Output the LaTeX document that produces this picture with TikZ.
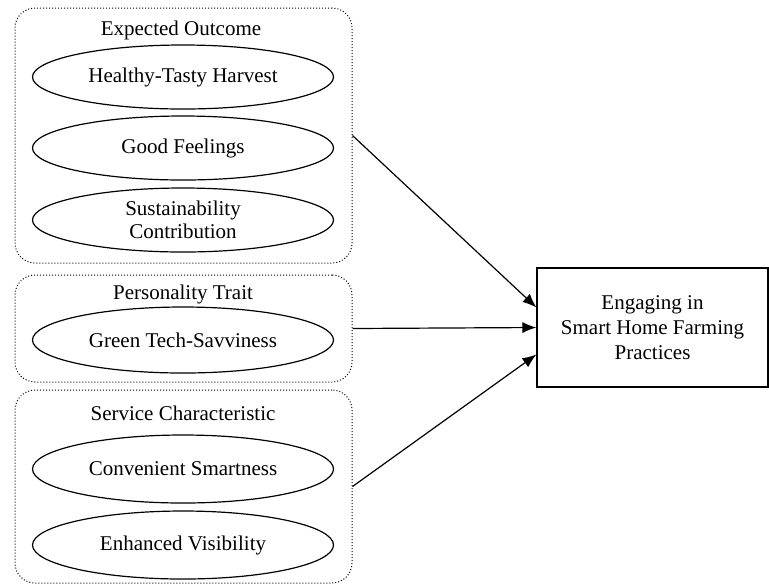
\documentclass[tikz,border=0pt]{standalone}
\usepackage{fontspec}
\setmainfont{Liberation Serif}
\usetikzlibrary{arrows.meta,positioning,shapes.geometric}
\tikzset{>={Latex[length=7pt,width=5.5pt]}}
\tikzset{
  group/.style={draw, densely dotted, line width=0.5pt, rounded corners=10pt,
    minimum width=168.5pt},
  factor/.style={draw, ellipse, line width=0.6pt, inner sep=0pt,
    minimum width=150.5pt, minimum height=32pt, align=center,
    font=\fontsize{10.5}{11.7}\selectfont},
  title/.style={font=\fontsize{10.5}{12}\selectfont},
  outcome/.style={draw, line width=0.6pt, minimum width=115.5pt,
    minimum height=59.5pt, align=center, font=\fontsize{10.5}{12.5}\selectfont},
  link/.style={->, line width=0.6pt}
}
\begin{document}
\begin{tikzpicture}[x=0.5pt,y=-0.5pt]
  \useasboundingbox (0,0) rectangle (769,585);
  % groups of factors
  \node[group, minimum height=127.5pt] (expected) at (183.5,135.5) {};
  \node[group, minimum height=53.5pt] (trait) at (183.5,328.5) {};
  \node[group, minimum height=96.5pt] (service) at (183.5,486.5) {};
  \node[title] (expectedT) at (181,30) {Expected Outcome};
  \node[title] (traitT) at (183,294) {Personality Trait};
  \node[title] (serviceT) at (183,413) {Service Characteristic};
  % factors
  \node[factor] (harvest) at (183,77) {Healthy-Tasty Harvest};
  \node[factor] (feelings) at (183,148) {Good Feelings};
  \node[factor] (sustain) at (183,220) {Sustainability\\Contribution};
  \node[factor, minimum height=33pt] (savvy) at (183,340) {Green Tech-Savviness};
  \node[factor, minimum height=34pt] (smart) at (183,469) {Convenient Smartness};
  \node[factor, minimum height=34pt] (visible) at (183,545) {Enhanced Visibility};
  % outcome
  \node[outcome] (engage) at (652.5,327.5) {Engaging in\\Smart Home Farming\\Practices};
  \draw[link] (expected.east) -- ([yshift=10pt]engage.west);
  \draw[link] (trait.east) -- (engage.west);
  \draw[link] (service.east) -- ([yshift=-13.5pt]engage.west);
\end{tikzpicture}
\end{document}
